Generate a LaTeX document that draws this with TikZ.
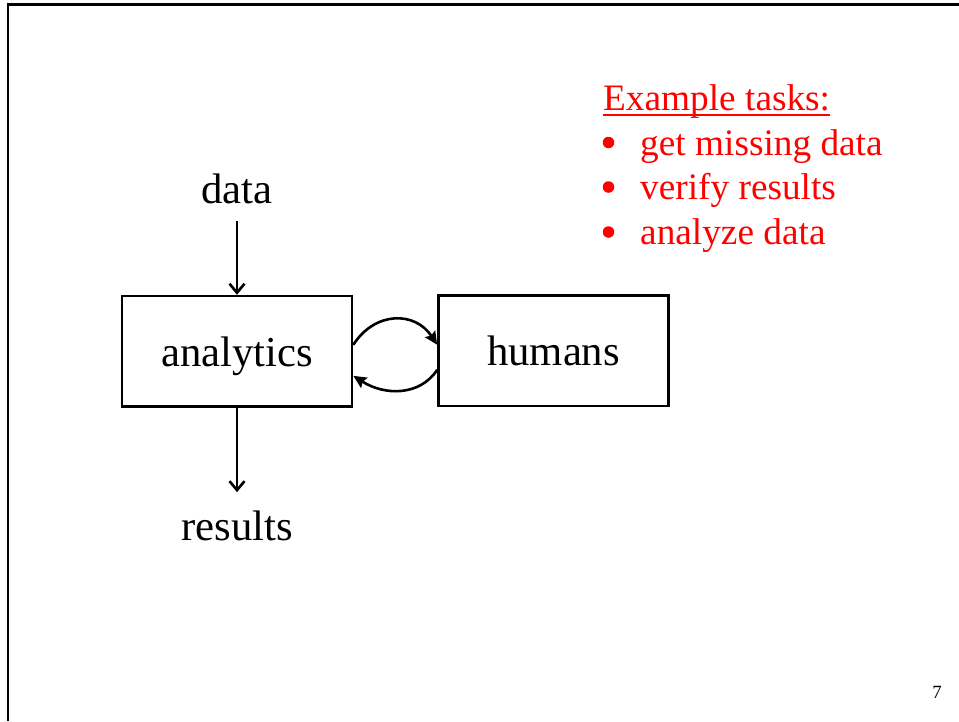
\documentclass[tikz,border=0pt]{standalone}
\usepackage{fontspec}
\setmainfont{Liberation Serif}
\usetikzlibrary{arrows.meta,calc}
\definecolor{taskred}{RGB}{255,0,0}
\tikzset{
  blocktext/.style={font=\fontsize{42.7}{50}\selectfont},
  tasktext/.style={font=\fontsize{37.3}{44}\selectfont, text=taskred, inner sep=0pt, anchor=base west},
  bulletdot/.style={circle, fill=taskred, inner sep=0pt, minimum size=11.5pt},
  block/.style={draw, line width=2.6pt, blocktext, minimum width=230pt, minimum height=110.5pt,
                inner sep=0pt, text height=30pt, text depth=0pt},
  label/.style={blocktext, inner sep=0pt, anchor=base},
  flow/.style={line width=2.6pt, -{Straight Barb[length=9pt,width=15pt,line width=2.6pt]}},
  loop/.style={line width=2.6pt, -{Stealth[length=13pt,width=12pt,inset=2pt]}},
}
\begin{document}
\begin{tikzpicture}[x=1pt,y=-1pt]
  \useasboundingbox (0,0) rectangle (959,721);
  % slide frame (top and left edges)
  \draw[line width=2.2pt] (8,721) -- (8,4.5) -- (959,4.5);

  % blocks
  \node[block] (an) at (237,351.3) {analytics};
  \node[block] (hu) at (553.5,350.8) {humans};

  % input / output labels
  \node[label] (data) at (237,203) {data};
  \node[label] (res) at (237,540) {results};

  \draw[flow, shorten <=17pt] (data.south) -- (an.north);
  \draw[flow, shorten >=18pt] (an.south) -- (res.north);

  % exchange between analytics and humans
  \coordinate (aout) at ([yshift=6.5pt]an.east);
  \coordinate (hin)  at ([yshift=6pt]hu.west);
  \coordinate (hout) at ([yshift=-19pt]hu.west);
  \coordinate (ain)  at ([yshift=-24.5pt]an.east);
  \draw[loop] (aout) .. controls (375,311) and (415,311) .. (hin);
  \draw[loop] (hout) .. controls (420,396) and (385,396) .. (ain);

  % task list
  \node[tasktext] (ex) at (603,110) {Example tasks:};
  \draw[taskred, line width=1.8pt] ([yshift=-5pt]ex.base west) -- ([yshift=-5pt]ex.base east);
  \node[bulletdot] (b1) at (608.5,142.5) {};
  \node[tasktext] (t1) at (640,155) {get missing data};
  \node[bulletdot] (b2) at (608.5,187) {};
  \node[tasktext] (t2) at (640,199) {verify results};
  \node[bulletdot] (b3) at (608.5,232) {};
  \node[tasktext] (t3) at (640,244) {analyze data};

  % page number
  \node[font=\fontsize{18.7}{22}\selectfont, inner sep=0pt, anchor=base] (pg) at (937,698) {7};
\end{tikzpicture}
\end{document}
